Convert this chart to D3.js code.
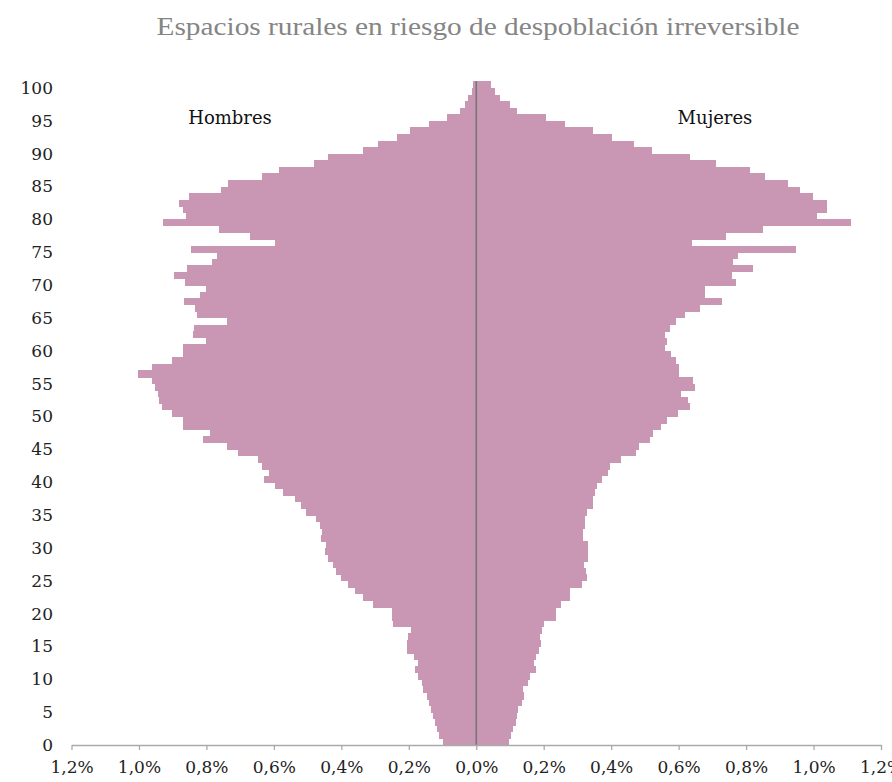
<!DOCTYPE html>
<html>
<head>
<meta charset="utf-8">
<script src="https://cdn.jsdelivr.net/npm/d3@7"></script>
<style>
  body { margin: 0; background: #fff; }
  text { font-family: "DejaVu Serif", "Liberation Serif", serif; }
</style>
</head>
<body>
<script>
// ages 0..100, share of total population (%)
var ages = d3.range(0, 101);

var hombres = [
  0.099, 0.109, 0.115, 0.122, 0.127, 0.135, 0.139, 0.147, 0.157, 0.162,
  0.172, 0.182, 0.172, 0.185, 0.206, 0.206, 0.201, 0.194, 0.246, 0.251,
  0.251, 0.306, 0.335, 0.360, 0.380, 0.400, 0.415, 0.425, 0.440, 0.449,
  0.444, 0.459, 0.456, 0.464, 0.474, 0.504, 0.520, 0.538, 0.572, 0.597,
  0.630, 0.614, 0.636, 0.646, 0.706, 0.740, 0.810, 0.790, 0.870, 0.869,
  0.903, 0.933, 0.940, 0.943, 0.953, 0.962, 1.002, 0.960, 0.903, 0.869,
  0.870, 0.800, 0.839, 0.836, 0.740, 0.829, 0.834, 0.867, 0.820, 0.800,
  0.864, 0.897, 0.857, 0.783, 0.770, 0.847, 0.596, 0.670, 0.764, 0.930,
  0.862, 0.868, 0.880, 0.853, 0.758, 0.736, 0.635, 0.586, 0.480, 0.440,
  0.336, 0.290, 0.235, 0.196, 0.140, 0.087, 0.047, 0.033, 0.023, 0.013,
  0.010
];

var mujeres = [
  0.097, 0.104, 0.109, 0.119, 0.120, 0.123, 0.136, 0.143, 0.140, 0.153,
  0.158, 0.178, 0.170, 0.178, 0.185, 0.193, 0.190, 0.196, 0.202, 0.235,
  0.235, 0.252, 0.279, 0.279, 0.314, 0.328, 0.324, 0.318, 0.331, 0.331,
  0.331, 0.316, 0.316, 0.321, 0.321, 0.328, 0.346, 0.346, 0.351, 0.358,
  0.374, 0.390, 0.396, 0.428, 0.473, 0.484, 0.514, 0.524, 0.549, 0.565,
  0.598, 0.635, 0.628, 0.608, 0.650, 0.644, 0.601, 0.601, 0.593, 0.578,
  0.561, 0.565, 0.561, 0.573, 0.593, 0.618, 0.662, 0.729, 0.677, 0.677,
  0.771, 0.757, 0.820, 0.760, 0.775, 0.947, 0.640, 0.740, 0.850, 1.110,
  1.010, 1.040, 1.040, 0.997, 0.960, 0.923, 0.855, 0.812, 0.710, 0.635,
  0.520, 0.467, 0.403, 0.346, 0.262, 0.206, 0.120, 0.100, 0.070, 0.055,
  0.045
];

var xTicks = [-1.2, -1.0, -0.8, -0.6, -0.4, -0.2, 0, 0.2, 0.4, 0.6, 0.8, 1.0, 1.2];
var yTicks = d3.range(0, 101, 5);

var width = 892, height = 782;

var svg = d3.select("body").append("svg")
    .attr("width", width)
    .attr("height", height);

var x = d3.scaleLinear().domain([-1.2, 1.2]).range([71.5, 881]);
var y = d3.scaleBand().domain(ages.slice().reverse()).range([81.4, 745]).paddingInner(0);

// title
svg.append("text")
    .attr("x", 478)
    .attr("y", 35)
    .attr("text-anchor", "middle")
    .style("font-family", "'Liberation Serif', serif")
    .style("font-size", "25px")
    .style("fill", "#858585")
    .attr("textLength", 643)
    .attr("lengthAdjust", "spacingAndGlyphs")
    .text("Espacios rurales en riesgo de despoblación irreversible");

// bars
var barColor = "#c996b4";
var bars = svg.append("g").attr("shape-rendering", "crispEdges");

bars.selectAll("rect.h")
    .data(ages)
  .enter().append("rect")
    .attr("class", "h")
    .attr("x", function(d) { return x(-hombres[d]); })
    .attr("y", function(d) { return y(d); })
    .attr("width", function(d) { return x(0) - x(-hombres[d]); })
    .attr("height", y.bandwidth() + 0.5)
    .attr("fill", barColor);

bars.selectAll("rect.m")
    .data(ages)
  .enter().append("rect")
    .attr("class", "m")
    .attr("x", x(0))
    .attr("y", function(d) { return y(d); })
    .attr("width", function(d) { return x(mujeres[d]) - x(0); })
    .attr("height", y.bandwidth() + 0.5)
    .attr("fill", barColor);

// centre line
svg.append("line")
    .attr("x1", x(0)).attr("x2", x(0))
    .attr("y1", 81).attr("y2", 745)
    .attr("stroke", "#777")
    .attr("stroke-width", 1.6);

// x axis
var fmt = function(v) { return Math.abs(v).toFixed(1).replace(".", ",") + "%"; };
var xAxis = svg.append("g")
    .attr("transform", "translate(0,745)")
    .call(d3.axisBottom(x).tickValues(xTicks).tickSize(5).tickSizeOuter(0).tickFormat(fmt));
xAxis.select(".domain").attr("stroke", "#aaa").attr("stroke-width", 1.3);
xAxis.selectAll(".tick line").attr("stroke", "#aaa").attr("stroke-width", 1.3);
xAxis.selectAll(".tick text")
    .attr("y", 16)
    .style("font-family", "'DejaVu Serif', serif")
    .style("font-size", "17px")
    .style("fill", "#222");

// y labels (at the lower edge of each age band)
svg.append("g").selectAll("text")
    .data(yTicks)
  .enter().append("text")
    .attr("x", 53)
    .attr("y", function(d) { return y(d) + y.bandwidth(); })
    .attr("dy", "0.35em")
    .attr("text-anchor", "end")
    .style("font-size", "17px")
    .style("fill", "#222")
    .text(function(d) { return d; });

// side labels
svg.append("text")
    .attr("x", 230).attr("y", 124)
    .attr("text-anchor", "middle")
    .style("font-size", "18px")
    .style("fill", "#111")
    .text("Hombres");
svg.append("text")
    .attr("x", 715).attr("y", 124)
    .attr("text-anchor", "middle")
    .style("font-size", "18px")
    .style("fill", "#111")
    .text("Mujeres");
</script>
</body>
</html>
